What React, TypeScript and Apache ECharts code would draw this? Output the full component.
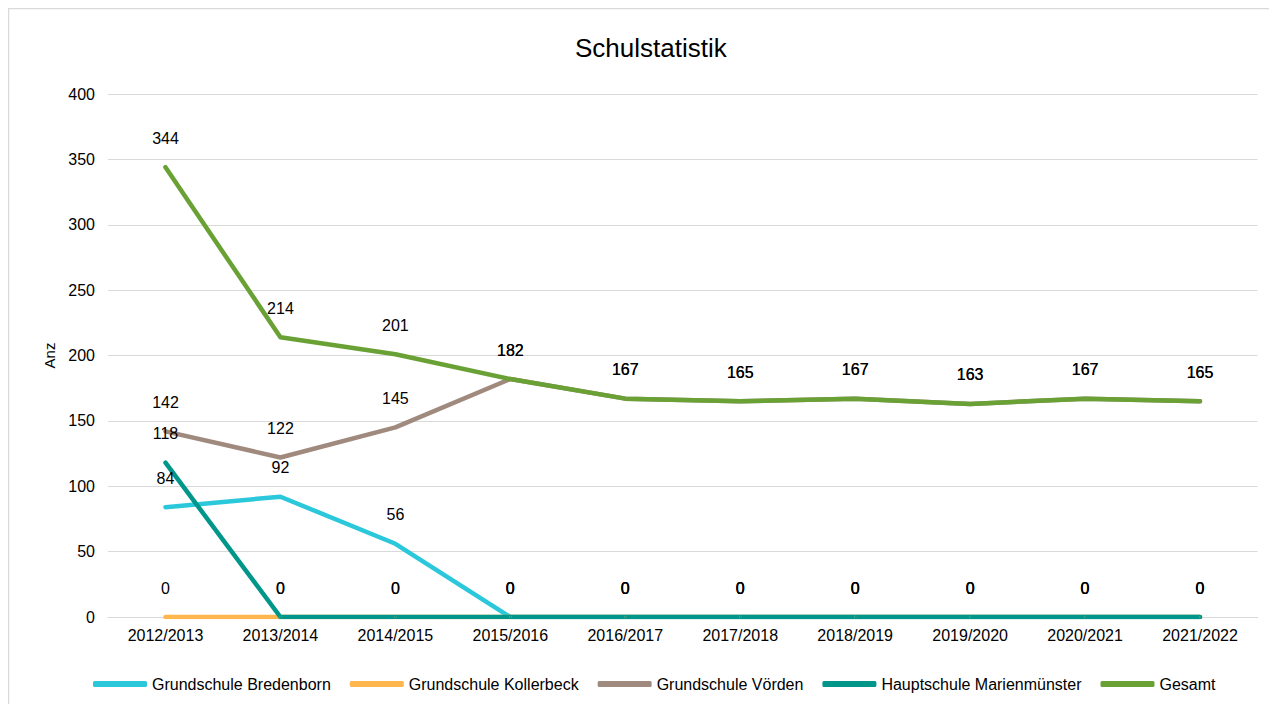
import React, { useEffect, useRef } from "react";
import * as echarts from "echarts";

const categories = [
  "2012/2013", "2013/2014", "2014/2015", "2015/2016", "2016/2017",
  "2017/2018", "2018/2019", "2019/2020", "2020/2021", "2021/2022",
];
const bredenborn = [84, 92, 56, 0, 0, 0, 0, 0, 0, 0];
const kollerbeck = [0, 0, 0, 0, 0, 0, 0, 0, 0, 0];
const voerden = [142, 122, 145, 182, 167, 165, 167, 163, 167, 165];
const hauptschule = [118, 0, 0, 0, 0, 0, 0, 0, 0, 0];
const gesamt = [344, 214, 201, 182, 167, 165, 167, 163, 167, 165];

const seriesDefs = [
  { name: "Grundschule Bredenborn", data: bredenborn, color: "#2BC8DB" },
  { name: "Grundschule Kollerbeck", data: kollerbeck, color: "#FFB64D" },
  { name: "Grundschule Vörden", data: voerden, color: "#A08A7E" },
  { name: "Hauptschule Marienmünster", data: hauptschule, color: "#00968A" },
  { name: "Gesamt", data: gesamt, color: "#69A135" },
];

const FONT = "'Liberation Sans', Arial, sans-serif";

export default function App() {
  const ref = useRef<HTMLDivElement>(null);
  useEffect(() => {
    if (!ref.current) return;
    const chart = echarts.init(ref.current, null, { renderer: "svg" });
    chart.setOption({
      animation: false,
      backgroundColor: "#ffffff",
      textStyle: { fontFamily: FONT },
      graphic: [
        {
          type: "rect",
          shape: { x: 0.5, y: 0.5, width: 1400, height: 900 },
          style: { fill: "none", stroke: "#d9d9d9", lineWidth: 1.5 },
          silent: true,
        },
      ],
      title: {
        text: "Schulstatistik",
        left: 562,
        top: 22,
        textStyle: { fontFamily: FONT, fontSize: 26, fontWeight: "normal", color: "#000" },
      },
      legend: {
        top: 663,
        left: 80,
        icon: "roundRect",
        itemWidth: 54,
        itemHeight: 6,
        itemGap: 19,
        textStyle: { fontFamily: FONT, fontSize: 16, color: "#000" },
        data: seriesDefs.map((s) => s.name),
      },
      grid: { left: 100, right: 19.5, top: 86, bottom: 87 },
      xAxis: {
        type: "category",
        data: categories,
        boundaryGap: true,
        axisLine: { show: true, lineStyle: { color: "#d9d9d9", width: 1 } },
        axisTick: { show: false },
        axisLabel: { fontFamily: FONT, fontSize: 16, color: "#000", margin: 10 },
      },
      yAxis: {
        type: "value",
        min: 0,
        max: 400,
        interval: 50,
        name: "Anz",
        nameLocation: "middle",
        nameGap: 50,
        nameTextStyle: { fontFamily: FONT, fontSize: 15, color: "#000" },
        axisLine: { show: false },
        axisTick: { show: false },
        axisLabel: { fontFamily: FONT, fontSize: 16, color: "#000", margin: 13 },
        splitLine: { lineStyle: { color: "#d9d9d9", width: 1 } },
      },
      series: seriesDefs.map((s) => ({
        name: s.name,
        type: "line",
        data: s.data,
        symbol: "circle",
        symbolSize: 2,
        showSymbol: true,
        showAllSymbol: true,
        itemStyle: { color: s.color },
        color: s.color,
        lineStyle: { color: s.color, width: 4.5, cap: "round", join: "round" },
        labelLayout: { hideOverlap: false },
        label: {
          show: true,
          position: "top",
          distance: 20,
          fontFamily: FONT,
          fontSize: 16,
          color: "#000",
        },
      })),
    });
    return () => chart.dispose();
  }, []);
  return <div ref={ref} style={{ width: 1269, height: 696 }} />;
}
